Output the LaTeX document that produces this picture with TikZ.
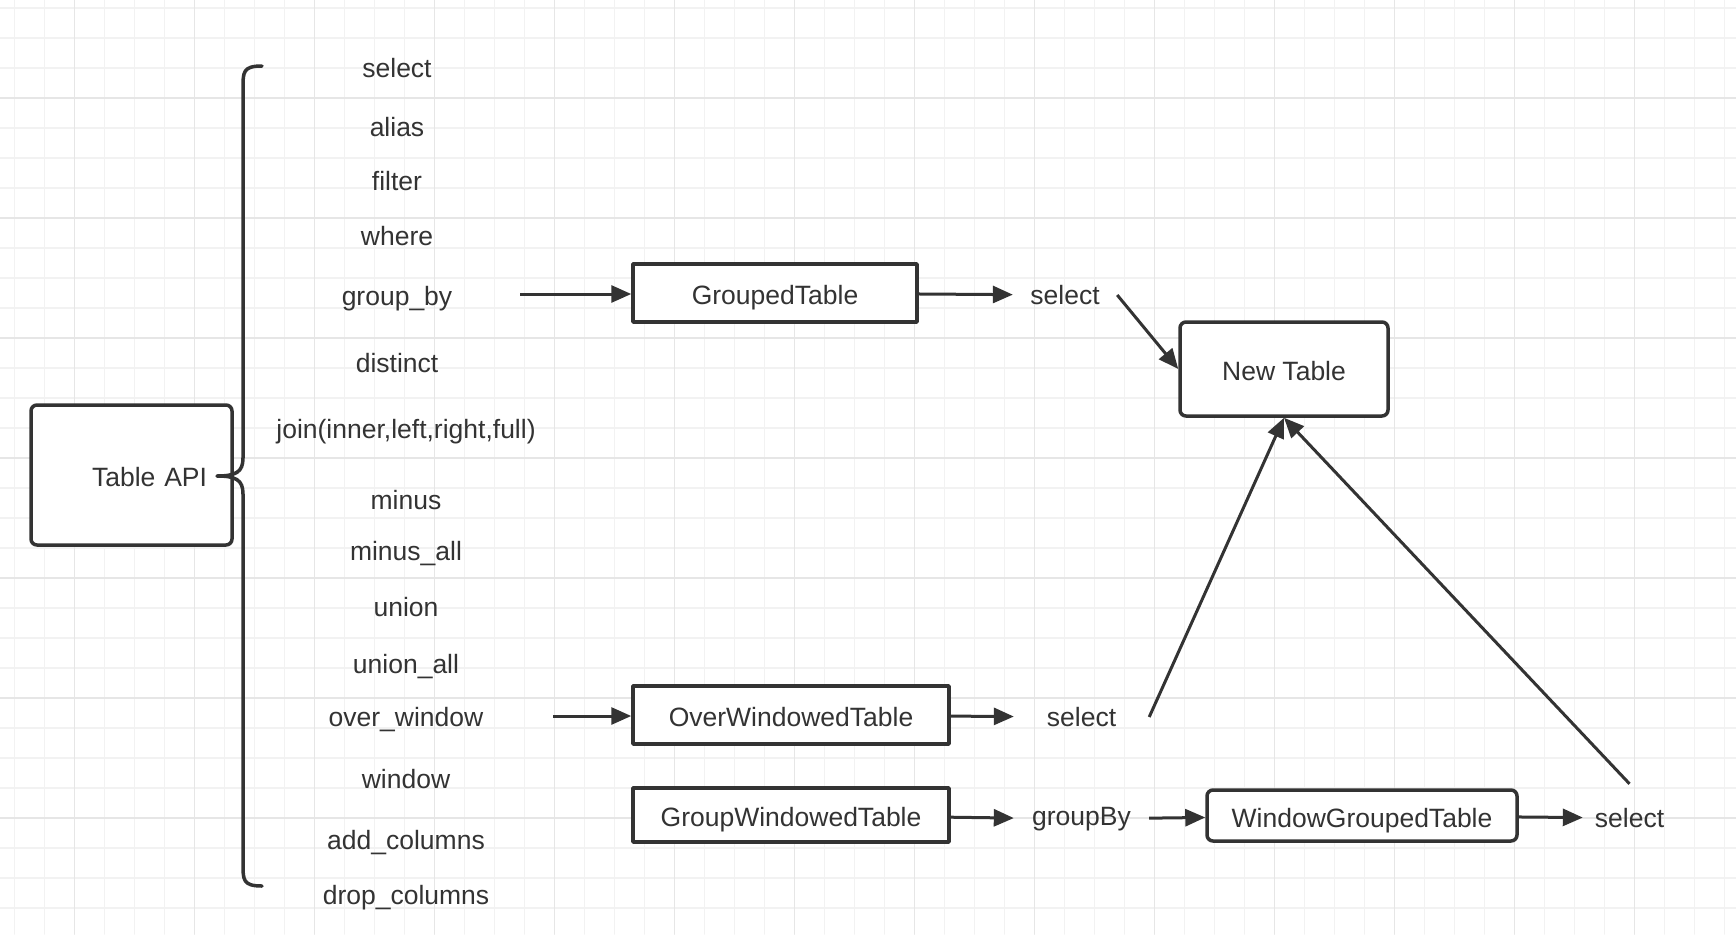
\documentclass[tikz,border=0pt]{standalone}
\usepackage{fontspec}
\setmainfont{Liberation Sans}
\usetikzlibrary{arrows.meta}
\definecolor{ink}{HTML}{333333}
\definecolor{gridminor}{HTML}{F2F2F2}
\definecolor{gridmajor}{HTML}{E6E6E6}
\begin{document}
\begin{tikzpicture}[x=1pt,y=-1pt, font=\fontsize{26.5}{32}\selectfont, line join=round, line cap=round,
 >={Triangle[length=20pt,width=17pt]},
 txt/.style={inner sep=0pt,text=ink},
 tbl/.style={draw=ink,line width=3.5pt,fill=white,text=ink,inner sep=0pt,text height=23.3pt,text depth=0pt},
 rtbl/.style={tbl,rounded corners=6pt},
 link/.style={->,draw=ink,line width=3pt,line cap=butt}]
 \useasboundingbox (0,0) rectangle (1736,934);
 \fill[white] (0,0) rectangle (1736,934);
 \foreach\i in{0,...,57}{\draw[gridminor,line width=1.5pt] (14.7+30*\i,0)--(14.7+30*\i,934);}
 \foreach\i in{0,...,31}{\draw[gridminor,line width=1.5pt] (0,8+30*\i)--(1736,8+30*\i);}
 \foreach\i in{0,...,13}{\draw[gridmajor,line width=1.5pt] (74.7+120*\i,0)--(74.7+120*\i,934);}
 \foreach\i in{0,...,7}{\draw[gridmajor,line width=1.5pt] (0,98+120*\i)--(1736,98+120*\i);}
 \node[rtbl,minimum width=201pt,minimum height=140pt,text width=151pt,inner xsep=25pt,align=right] (api) at (131.5,475) {Table API};
 \draw[ink,line width=3.5pt] (262,66) .. controls (243,66) and (243,72) .. (243,88) -- (243,458)
  .. controls (243,472) and (236,476) .. (217,476) .. controls (236,476) and (243,480) .. (243,494)
  -- (243,864) .. controls (243,880) and (243,886) .. (262,886);
 \foreach\nm/\xx/\yy/\tx in{msel/397/68/select, malias/397/127/alias, mfilter/397/181/filter,
  mwhere/397/236/where, mgroup/397/298.5/group\_by, mdist/397/363/distinct,
  mjoin/406/432/{join(inner,left,right,full)}, mminus/406/500/minus, mminusall/406/554/minus\_all,
  munion/406/607/union, munionall/406/667/union\_all, mover/406/720/over\_window,
  mwin/406/779/window, madd/406/843/add\_columns, mdrop/406/898/drop\_columns}
  {\node[txt] (\nm) at (\xx,\yy) {\tx};}
 \node[tbl,minimum width=284pt,minimum height=58pt] (gt) at (775,293) {GroupedTable};
 \node[rtbl,minimum width=208pt,minimum height=94pt] (nt) at (1284,369) {New Table};
 \node[tbl,minimum width=316pt,minimum height=58pt] (owt) at (791,715) {OverWindowedTable};
 \node[tbl,minimum width=316pt,minimum height=54pt] (gwt) at (791,815) {GroupWindowedTable};
 \node[rtbl,minimum width=310pt,minimum height=51pt] (wgt) at (1362,815.5) {WindowGroupedTable};
 \node[txt,minimum width=104pt] (sel1) at (1065,295) {select};
 \node[txt,minimum width=135pt] (sel2) at (1081.5,717) {select};
 \node[txt,minimum width=135pt] (gby) at (1081.5,819) {groupBy};
 \node[txt,minimum width=93pt,minimum height=68pt] (sel3) at (1629.5,818) {select};
 \coordinate (gbtail) at (520,294);
 \coordinate (owtail) at (553,716);
 \draw[link] (gbtail) -- (gbtail -| gt.west);
 \draw[link] (owtail) -- (owtail -| owt.west);
 \draw[link] (gt) -- (sel1);
 \draw[link] (owt) -- (sel2);
 \draw[link] (gwt) -- (gby);
 \draw[link] (gby) -- (wgt);
 \draw[link] (wgt) -- (sel3);
 \draw[link] (sel1.east) -- (nt.west);
 \draw[link] (sel2.east) -- (nt.south);
 \draw[link] (sel3.north) -- (nt.south);
\end{tikzpicture}
\end{document}
